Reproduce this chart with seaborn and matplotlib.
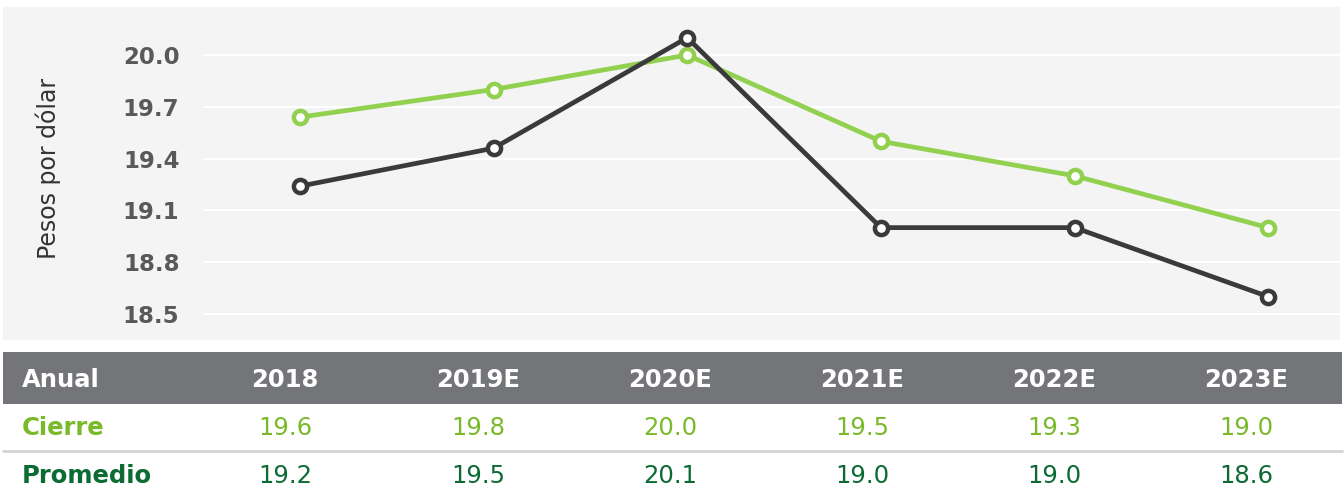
import pandas as pd
import seaborn as sns
import matplotlib.pyplot as plt
from matplotlib.patches import Rectangle
from matplotlib.lines import Line2D

# Data
years = ['2018', '2019E', '2020E', '2021E', '2022E', '2023E']
cierre = [19.64, 19.80, 20.00, 19.50, 19.30, 19.00]
promedio = [19.24, 19.46, 20.10, 19.00, 19.00, 18.60]
cierre_tabla = ['19.6', '19.8', '20.0', '19.5', '19.3', '19.0']
promedio_tabla = ['19.2', '19.5', '20.1', '19.0', '19.0', '18.6']
yticks = [18.5, 18.8, 19.1, 19.4, 19.7, 20.0]

df = pd.DataFrame({
    'Año': years * 2,
    'Valor': cierre + promedio,
    'Serie': ['Cierre'] * 6 + ['Promedio'] * 6,
})

W, H = 1344, 492
sns.set_theme(style='white')
plt.rcParams['font.family'] = ['DejaVu Sans']

fig = plt.figure(figsize=(W / 100, H / 100), dpi=100)
fig.patch.set_facecolor('white')


def fx(px):
    return px / W


def fy(py):
    return 1 - py / H


# grey panel behind the chart
fig.patches.append(Rectangle((fx(3), fy(340)), fx(1337), 333 / H,
                             transform=fig.transFigure, facecolor='#f4f4f4',
                             edgecolor='none', zorder=-5))

ax = fig.add_axes([fx(203), fy(340), fx(1340 - 203), 333 / H])
ax.set_facecolor('none')
ax.set_zorder(2)

sns.lineplot(data=df, x='Año', y='Valor', hue='Serie',
             palette={'Cierre': '#92d050', 'Promedio': '#3a3a3a'},
             hue_order=['Cierre', 'Promedio'], marker='o', markersize=9.5,
             markerfacecolor='white', markeredgewidth=3.2, linewidth=3.4,
             legend=False, ax=ax)
for line in ax.lines:
    line.set_markeredgecolor(line.get_color())

ax.set_xlim(-0.5, 5.37)
ax.set_ylim(18.349, 20.278)
ax.set_yticks(yticks)
ax.set_yticklabels([f'{v:.1f}' for v in yticks], fontsize=16.5,
                   fontweight='bold', color='#595959')
ax.tick_params(axis='y', length=0, pad=17)
ax.set_xticks([])
ax.set_xlabel('')
ax.set_ylabel('')
ax.yaxis.grid(True, color='white', linewidth=1.5)
ax.set_axisbelow(True)
for s in ax.spines.values():
    s.set_visible(False)

fig.text(fx(48), fy(168), 'Pesos por dólar', rotation=90, fontsize=17,
         color='#333333', ha='center', va='center')

# table below the chart
fig.patches.append(Rectangle((fx(3), fy(404)), fx(1339), 52 / H,
                             transform=fig.transFigure, facecolor='#737578',
                             edgecolor='none', zorder=-5))
fig.lines.append(Line2D([fx(3), fx(1342)], [fy(451), fy(451)],
                        transform=fig.transFigure, color='#d4d4d4',
                        linewidth=2, zorder=-5))

fs = 17.5
col_x = [285, 478, 670, 862, 1054, 1246]
fig.text(fx(22), fy(380), 'Anual', fontsize=fs, fontweight='bold',
         color='white', ha='left', va='center')
fig.text(fx(22), fy(428), 'Cierre', fontsize=fs, fontweight='bold',
         color='#7ab929', ha='left', va='center')
fig.text(fx(22), fy(476), 'Promedio', fontsize=fs, fontweight='bold',
         color='#0b6b33', ha='left', va='center')
for x, y, c, p in zip(col_x, years, cierre_tabla, promedio_tabla):
    fig.text(fx(x), fy(380), y, fontsize=fs, fontweight='bold',
             color='white', ha='center', va='center')
    fig.text(fx(x), fy(428), c, fontsize=fs, color='#7ab929',
             ha='center', va='center')
    fig.text(fx(x), fy(476), p, fontsize=fs, color='#0b6b33',
             ha='center', va='center')

plt.savefig('out.png', dpi=100)
